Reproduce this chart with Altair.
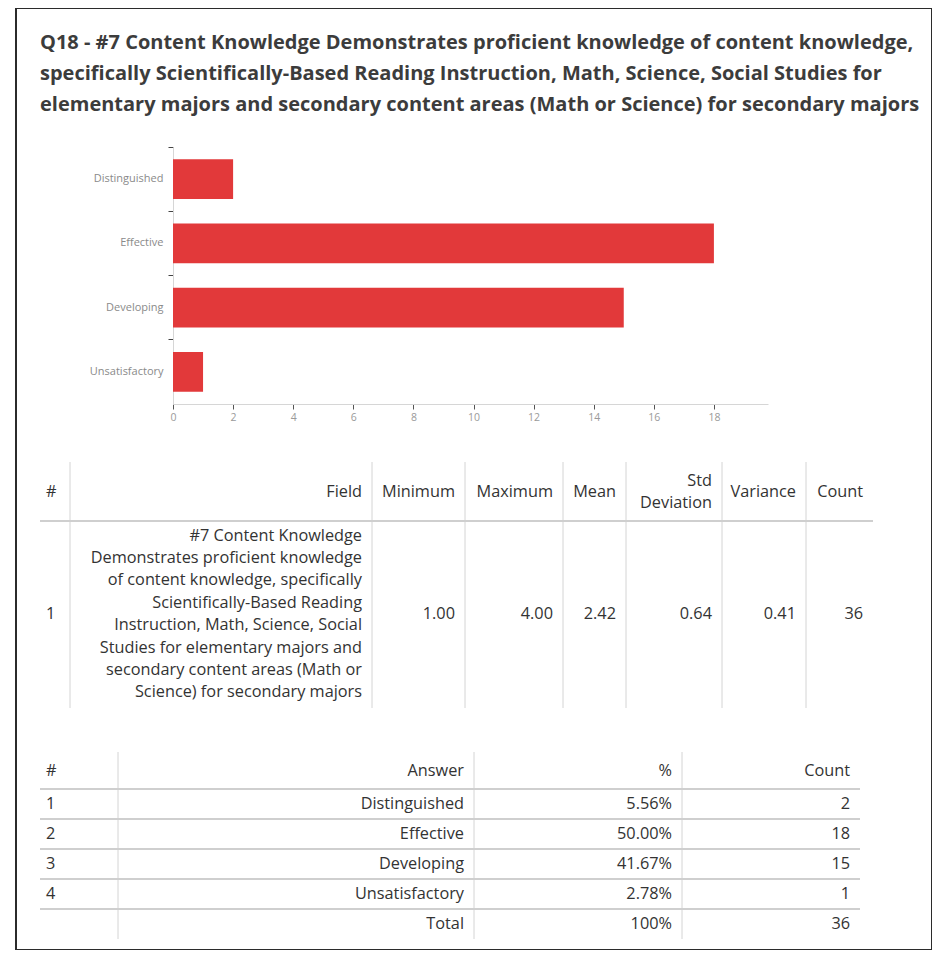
import altair as alt
import pandas as pd

# ---------------- data ----------------
title_lines = [
    "Q18 - #7 Content Knowledge Demonstrates proficient knowledge of content knowledge,",
    "specifically Scientifically-Based Reading Instruction, Math, Science, Social Studies for",
    "elementary majors and secondary content areas (Math or Science) for secondary majors",
]
answers = ["Distinguished", "Effective", "Developing", "Unsatisfactory"]
counts = [2, 18, 15, 1]
percents = ["5.56%", "50.00%", "41.67%", "2.78%"]
x_ticks = [0, 2, 4, 6, 8, 10, 12, 14, 16, 18]

stat_headers = ["#", "Field", "Minimum", "Maximum", "Mean", "Std\nDeviation", "Variance", "Count"]
field_lines = [
    "#7 Content Knowledge",
    "Demonstrates proficient knowledge",
    "of content knowledge, specifically",
    "Scientifically-Based Reading",
    "Instruction, Math, Science, Social",
    "Studies for elementary majors and",
    "secondary content areas (Math or",
    "Science) for secondary majors",
]
stat_values = ["1", "\n".join(field_lines), "1.00", "4.00", "2.42", "0.64", "0.41", "36"]

answer_headers = ["#", "Answer", "%", "Count"]
total_row = ["", "Total", "100%", "36"]

# ---------------- tables built from the arrays ----------------
bar_df = pd.DataFrame({"answer": answers, "count": counts})

t1_rows = []
for i, (h, v) in enumerate(zip(stat_headers, stat_values)):
    edge = 0 if i == 0 else i + 1
    t1_rows.append({"col": i, "edge": edge, "row": 0.5, "text": h})
    t1_rows.append({"col": i, "edge": edge, "row": 1.5, "text": v})
t1_df = pd.DataFrame(t1_rows)
t1_v = pd.DataFrame({"edge": list(range(1, len(stat_headers))), "y0": 0, "y1": 2})
t1_h = pd.DataFrame({"x0": [0], "x1": [len(stat_headers)], "y": [1]})

t2_rows = []
body = [[str(k + 1), a, p, str(c)] for k, (a, p, c) in enumerate(zip(answers, percents, counts))]
for r, cells in enumerate([answer_headers] + body + [total_row]):
    for i, t in enumerate(cells):
        edge = 0 if i == 0 else i + 1
        t2_rows.append({"col": i, "edge": edge, "row": r, "text": t})
t2_df = pd.DataFrame(t2_rows)
t2_v = pd.DataFrame({"edge": list(range(1, len(answer_headers))), "y0": -0.5, "y1": len(body) + 1.5})
t2_h = pd.DataFrame({"y": [r + 0.5 for r in range(len(body) + 1)], "x0": 0, "x1": len(answer_headers)})

for d in (t1_df, t2_df):
    d["nlines"] = d["text"].str.count("\n") + 1

# ---------------- style ----------------
FONT = "Open Sans"
TXT = "#333333"
W, H = 916, 942

T1X = alt.Scale(domain=list(range(9)), range=[24, 54, 356, 449, 547, 610, 706, 790, 857], nice=False, zero=False)
T1Y = alt.Scale(domain=[0, 0.5, 1, 1.5, 2], range=[454, 484, 513, 606, 700], nice=False, zero=False)
T2X = alt.Scale(domain=[0, 1, 2, 3, 4], range=[24, 102, 458, 666, 844], nice=False, zero=False)
T2Y = alt.Scale(domain=[-0.5, 0, 0.5, 5.5], range=[744, 763, 781, 931], nice=False, zero=False)

bar = alt.Chart(bar_df).mark_bar(color="#e2393a", height=alt.RelativeBandSize(0.62)).encode(
    x=alt.X("count:Q",
            scale=alt.Scale(domain=[0, 19.8], range=[157, 752], nice=False),
            axis=alt.Axis(values=x_ticks, title=None, grid=False, offset=-(H - 396),
                          domainColor="#d6d6d6", tickColor="#555555", tickSize=5,
                          labelColor="#9a9a9a", labelFontSize=10.5, labelFont=FONT,
                          labelPadding=3, labelFlush=False)),
    y=alt.Y("answer:N", sort=answers,
            scale=alt.Scale(range=[139, 396], paddingInner=0, paddingOuter=0),
            axis=alt.Axis(title=None, offset=-157, bandPosition=0,
                          domainColor="#d6d6d6", tickColor="#444444", tickSize=5,
                          labelColor="#8a8a8a", labelFontSize=11, labelFont=FONT,
                          labelPadding=5)),
)


def table(df, vdf, hdf, sx, sy, line_h):
    layers = [
        alt.Chart(vdf).mark_rule(color="#d4d4d4", strokeWidth=1).encode(
            x=alt.X("edge:Q", scale=sx, axis=None), y=alt.Y("y0:Q", scale=sy, axis=None), y2="y1:Q"),
        alt.Chart(hdf).mark_rule(color="#cfcfcf", strokeWidth=2).encode(
            x=alt.X("x0:Q", scale=sx, axis=None), x2="x1:Q", y=alt.Y("y:Q", scale=sy, axis=None)),
    ]
    for is_left in (True, False):
        for n in sorted(df["nlines"].unique()):
            cond = f"datum.nlines == {n} && " + ("datum.col == 0" if is_left else "datum.col > 0")
            layers.append(
                alt.Chart(df).transform_filter(cond).mark_text(
                    align="left" if is_left else "right", dx=6 if is_left else -10,
                    dy=-(n - 1) * line_h / 2, font=FONT, fontSize=16.3, color=TXT,
                    baseline="middle", lineBreak="\n", lineHeight=line_h,
                ).encode(x=alt.X("edge:Q", scale=sx, axis=None),
                         y=alt.Y("row:Q", scale=sy, axis=None), text="text:N")
            )
    return alt.layer(*layers)


t1 = table(t1_df, t1_v, t1_h, T1X, T1Y, 22.4)
t2 = table(t2_df, t2_v, t2_h, T2X, T2Y, 22)

chart = alt.layer(bar, t1, t2).resolve_scale(x="independent", y="independent").properties(
    width=W, height=H,
    padding={"left": 8, "top": 0, "right": 0, "bottom": 0},
    autosize=alt.AutoSizeParams(type="none"),
    title=alt.TitleParams(text=title_lines, anchor="start", frame="group", font=FONT,
                          fontSize=20.0, fontWeight="bold", color="#3c3c3c", lineHeight=31,
                          baseline="top", offset=0, dx=24, dy=107),
).configure_view(stroke="#2b2b2b", strokeWidth=2)

chart.save("out.html", embed_options={"renderer": "svg", "actions": False})
